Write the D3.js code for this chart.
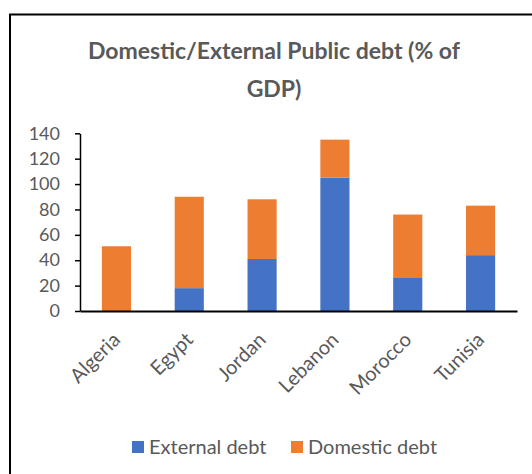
<!DOCTYPE html>
<html>
<head>
<meta charset="utf-8">
<script src="https://cdn.jsdelivr.net/npm/d3@7"></script>
<style>
  html, body { margin: 0; padding: 0; background: #fff; }
  svg { display: block; }
  text { font-family: Lato, "Open Sans", sans-serif; }
</style>
</head>
<body>
<svg id="chart" width="532" height="474"></svg>
<script>
// Public debt by country, % of GDP
const countries = ["Algeria", "Egypt", "Jordan", "Lebanon", "Morocco", "Tunisia"];
const externalDebt = [0, 18, 41, 105, 26, 44];
const domesticDebt = [51, 72, 47, 30, 50, 39];
const yTicks = [0, 20, 40, 60, 80, 100, 120, 140];
const seriesNames = ["External debt", "Domestic debt"];
const seriesColors = ["#4472C4", "#ED7D31"];

const svg = d3.select("#chart");
const textColor = "#595959";

// Chart frame (top and left edges visible)
svg.append("path")
  .attr("d", "M10,532 V14.5 H532")
  .attr("fill", "none")
  .attr("stroke", "#000")
  .attr("stroke-width", 2);

// Title
const title = svg.append("text")
  .attr("text-anchor", "middle")
  .attr("fill", textColor)
  .attr("font-weight", "bold")
  .attr("font-size", 23);
title.append("tspan").attr("x", 274).attr("y", 59).text("Domestic/External Public debt (% of");
title.append("tspan").attr("x", 274).attr("y", 97).text("GDP)");

const x = d3.scaleBand()
  .domain(countries)
  .range([80, 517])
  .paddingInner(0.6)
  .paddingOuter(0.3);

const y = d3.scaleLinear()
  .domain([0, 140])
  .range([311, 133.3]);

// Stacked data
const rows = countries.map((c, i) => ({
  country: c,
  "External debt": externalDebt[i],
  "Domestic debt": domesticDebt[i]
}));
const stack = d3.stack().keys(seriesNames)(rows);

svg.append("g")
  .selectAll("g")
  .data(stack)
  .join("g")
  .attr("fill", (d, i) => seriesColors[i])
  .selectAll("rect")
  .data(d => d)
  .join("rect")
  .attr("x", d => x(d.data.country))
  .attr("width", x.bandwidth())
  .attr("y", d => y(d[1]))
  .attr("height", d => y(d[0]) - y(d[1]));

// Y axis
const yAxis = svg.append("g")
  .attr("transform", "translate(80,0)")
  .call(d3.axisLeft(y).tickValues(yTicks).tickSize(5).tickSizeOuter(0));
yAxis.select(".domain").attr("stroke", "#000").attr("stroke-width", 1.5);
yAxis.selectAll(".tick line").attr("stroke", "#000").attr("stroke-width", 1.5);
yAxis.selectAll(".tick text")
  .attr("fill", textColor)
  .attr("font-size", 18)
  .attr("x", -20)
  .style("font-family", "Lato, sans-serif");

// X axis
const xAxis = svg.append("g")
  .attr("transform", "translate(0,311)")
  .call(d3.axisBottom(x).tickSize(0).tickSizeOuter(0));
xAxis.select(".domain").attr("stroke", "#000").attr("stroke-width", 2);
xAxis.selectAll(".tick text")
  .attr("fill", textColor)
  .attr("font-size", 20)
  .attr("text-anchor", "end")
  .attr("dy", null)
  .attr("y", 0)
  .attr("transform", "translate(5,30) rotate(-45)")
  .style("font-family", "Lato, sans-serif");

// Legend
const legend = svg.append("g").attr("transform", "translate(132,441)");
const legendOffsets = [0, 159];
seriesNames.forEach((name, i) => {
  const g = legend.append("g").attr("transform", `translate(${legendOffsets[i]},0)`);
  g.append("rect").attr("width", 12).attr("height", 12).attr("fill", seriesColors[i]);
  g.append("text")
    .attr("x", 17)
    .attr("y", 13)
    .attr("fill", textColor)
    .attr("font-size", 20)
    .text(name);
});
</script>
</body>
</html>
